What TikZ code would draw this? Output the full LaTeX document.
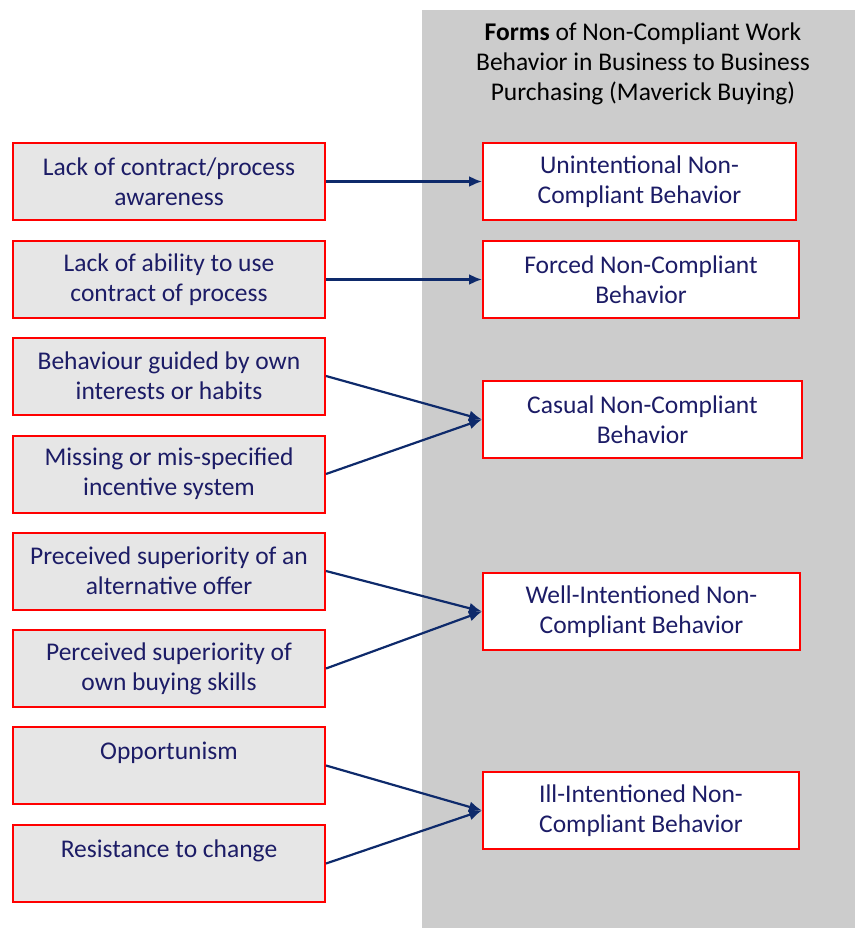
\documentclass[tikz,border=0pt]{standalone}
\usepackage{fontspec}
\setmainfont{Carlito}
\usetikzlibrary{arrows.meta}
\definecolor{panelgray}{HTML}{CCCCCC}
\definecolor{causefill}{HTML}{E6E6E6}
\definecolor{boxred}{HTML}{FF0000}
\definecolor{navytext}{HTML}{1C1C66}
\definecolor{arrownavy}{HTML}{0E2A6B}
\begin{document}
\begin{tikzpicture}[x=1pt,y=-1pt,
  cause/.style={draw=boxred, line width=2pt, fill=causefill, minimum width=312pt,
    minimum height=77pt, inner sep=0pt, align=center, text=navytext,
    font=\fontsize{25.5}{30}\selectfont},
  form/.style={draw=boxred, line width=2pt, fill=white, minimum height=77pt,
    inner sep=0pt, align=center, text=navytext, font=\fontsize{25.5}{30}\selectfont},
  link/.style={draw=arrownavy, line width=2.2pt, -{Latex[length=13pt,width=11pt]}}]
\useasboundingbox (0,0) rectangle (855,928);
% grey panel holding the forms of non-compliant behaviour
\fill[panelgray] (422,10) rectangle (855,928);
\node[align=center, font=\fontsize{25.5}{30}\selectfont] (title) at (643,64)
  {\textbf{Forms} of Non-Compliant Work\\Behavior in Business to Business\\Purchasing (Maverick Buying)};
% causes
\node[cause] (c1) at (169,181.5) {Lack of contract/process\\awareness};
\node[cause] (c2) at (169,279.5) {Lack of ability to use\\contract of process};
\node[cause] (c3) at (169,376) {Behaviour guided by own\\interests or habits};
\node[cause] (c4) at (169,474) {Missing or mis-specified\\incentive system};
\node[cause] (c5) at (169,571) {Preceived superiority of an\\alternative offer};
\node[cause] (c6) at (169,668.5) {Perceived superiority of\\own buying skills};
\node[cause] (c7) at (169,765.5) {Opportunism\\\vphantom{a}};
\node[cause] (c8) at (169,863.5) {Resistance to change\\\vphantom{a}};
% forms
\node[form, minimum width=313pt] (f1) at (639.5,181.5) {Unintentional Non-\\Compliant Behavior};
\node[form, minimum width=316pt] (f2) at (641,279.5) {Forced Non-Compliant\\Behavior};
\node[form, minimum width=319pt] (f3) at (642.5,419.5) {Casual Non-Compliant\\Behavior};
\node[form, minimum width=317pt] (f4) at (641.5,611.5) {Well-Intentioned Non-\\Compliant Behavior};
\node[form, minimum width=316pt] (f5) at (641,810.5) {Ill-Intentioned Non-\\Compliant Behavior};
% links
\draw[link] (c1.east) -- (f1.west);
\draw[link] (c2.east) -- (f2.west);
\draw[link] (c3.east) -- (f3.west);
\draw[link] (c4.east) -- (f3.west);
\draw[link] (c5.east) -- (f4.west);
\draw[link] (c6.east) -- (f4.west);
\draw[link] (c7.east) -- (f5.west);
\draw[link] (c8.east) -- (f5.west);
\end{tikzpicture}
\end{document}
